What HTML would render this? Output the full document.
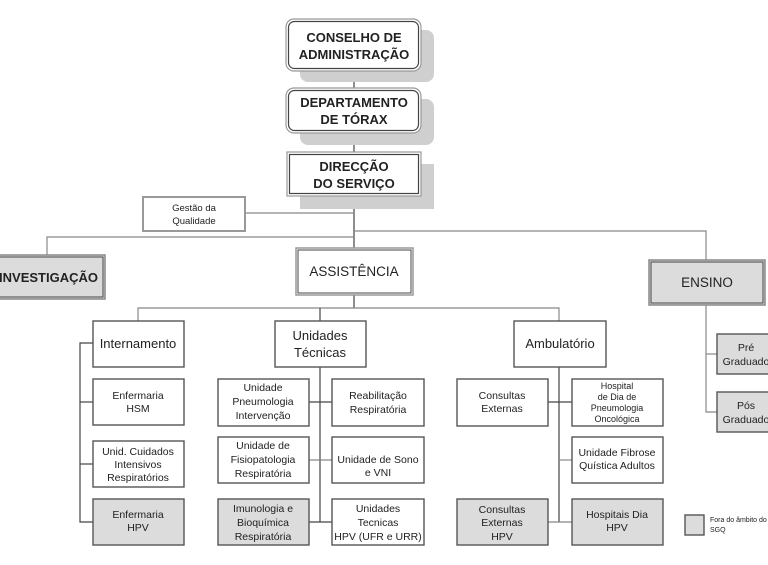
<!DOCTYPE html>
<html><head><meta charset="utf-8"><style>
html,body{margin:0;padding:0;background:#fff;width:768px;height:565px;overflow:hidden}
svg{display:block}
text{font-family:"Liberation Sans",Arial,sans-serif;fill:#222;text-anchor:middle}
.b{fill:#fff;stroke:#555;stroke-width:1.4}
.g{fill:#dcdcdc;stroke:#555;stroke-width:1.4}
.l{stroke:#444;stroke-width:1.2;fill:none}
.lg{stroke:#888;stroke-width:1.2;fill:none}
.s{font-size:10.5px}
.m{font-size:13px}
.t{font-size:13px;font-weight:bold;fill:#222}
</style></head><body>
<svg width="768" height="565" viewBox="0 0 768 565">
<!-- connectors -->
<line class="l" x1="354" y1="71" x2="354" y2="88"/>
<line class="l" x1="354" y1="133" x2="354" y2="152"/>
<line class="l" x1="354" y1="196" x2="354" y2="248"/>
<line class="lg" x1="245" y1="213" x2="354" y2="213"/>
<polyline class="lg" points="354,231 706,231 706,260"/>
<polyline class="lg" points="354,237 47,237 47,255"/>
<line class="l" x1="354" y1="295" x2="354" y2="308"/>
<polyline class="lg" points="138,321 138,308 559,308 559,321"/>
<line class="l" x1="320" y1="308" x2="320" y2="321"/>
<!-- internamento column -->
<polyline class="l" points="93,343 80,343 80,522 93,522"/>
<line class="l" x1="80" y1="402" x2="93" y2="402"/>
<line class="l" x1="80" y1="464" x2="93" y2="464"/>
<!-- UT column -->
<line class="l" x1="320" y1="367" x2="320" y2="522"/>
<line class="l" x1="309" y1="402" x2="332" y2="402"/>
<line class="lg" x1="309" y1="460" x2="332" y2="460"/>
<line class="l" x1="309" y1="522" x2="332" y2="522"/>
<!-- Amb column -->
<line class="l" x1="559" y1="367" x2="559" y2="522"/>
<line class="l" x1="548" y1="402" x2="572" y2="402"/>
<line class="lg" x1="559" y1="460" x2="572" y2="460"/>
<line class="lg" x1="548" y1="522" x2="572" y2="522"/>
<!-- ensino column -->
<polyline class="lg" points="706,305 706,412 717,412"/>
<line class="lg" x1="706" y1="354" x2="717" y2="354"/>

<!-- shadows -->
<rect x="300" y="30" width="134" height="52" rx="8" fill="#cfcfcf"/>
<rect x="300" y="99" width="134" height="46" rx="8" fill="#cfcfcf"/>
<rect x="300" y="164" width="134" height="45" fill="#cfcfcf"/>
<!-- top boxes -->
<rect x="286" y="19" width="135" height="52" rx="8" fill="#fff" stroke="#999" stroke-width="1.2"/>
<rect x="288.5" y="21.5" width="130" height="47" rx="6" fill="none" stroke="#444" stroke-width="1.2"/>
<text class="t" x="354" y="42">CONSELHO DE</text>
<text class="t" x="354" y="59">ADMINISTRAÇÃO</text>
<rect x="286" y="88" width="135" height="45" rx="8" fill="#fff" stroke="#999" stroke-width="1.2"/>
<rect x="288.5" y="90.5" width="130" height="40" rx="6" fill="none" stroke="#444" stroke-width="1.2"/>
<text class="t" x="354" y="107">DEPARTAMENTO</text>
<text class="t" x="354" y="124">DE TÓRAX</text>
<rect x="287" y="152" width="134" height="44" fill="#fff" stroke="#999" stroke-width="1.2"/>
<rect x="289.5" y="154.5" width="129" height="39" fill="none" stroke="#444" stroke-width="1.2"/>
<text class="t" x="354" y="171">DIRECÇÃO</text>
<text class="t" x="354" y="188">DO SERVIÇO</text>

<rect x="143" y="197" width="102" height="34" fill="#fff" stroke="#999" stroke-width="2"/>
<text class="s" x="194" y="211" style="font-size:9.5px">Gestão da</text>
<text class="s" x="194" y="224" style="font-size:9.5px">Qualidade</text>

<rect x="-5" y="255" width="110" height="44" fill="#dcdcdc" stroke="#888" stroke-width="1.5"/>
<rect x="-3" y="257" width="106" height="40" fill="none" stroke="#444" stroke-width="1"/>
<text class="t" x="98" y="282" style="text-anchor:end">INVESTIGAÇÃO</text>

<rect x="296" y="248" width="117" height="47" fill="#fff" stroke="#999" stroke-width="1.5"/>
<rect x="298" y="250" width="113" height="43" fill="none" stroke="#444" stroke-width="1"/>
<text class="t" x="354" y="276" style="font-weight:normal;font-size:13.5px">ASSISTÊNCIA</text>

<rect x="649" y="260" width="116" height="45" fill="#dcdcdc" stroke="#888" stroke-width="1.5"/>
<rect x="651" y="262" width="112" height="41" fill="none" stroke="#444" stroke-width="1"/>
<text class="t" x="707" y="287" style="font-weight:normal;font-size:13.5px">ENSINO</text>

<!-- second level -->
<rect class="b" x="93" y="321" width="91" height="46" stroke="#777"/>
<text class="m" x="138" y="348">Internamento</text>
<rect class="b" x="275" y="321" width="91" height="46" stroke="#777"/>
<text class="m" x="320" y="340">Unidades</text>
<text class="m" x="320" y="357">Técnicas</text>
<rect class="b" x="514" y="321" width="92" height="46" stroke="#777"/>
<text class="m" x="560" y="348">Ambulatório</text>

<!-- internamento -->
<rect class="b" x="93" y="379" width="91" height="46"/>
<text class="s" x="138" y="399">Enfermaria</text>
<text class="s" x="138" y="412">HSM</text>
<rect class="b" x="93" y="441" width="91" height="46"/>
<text class="s" x="138" y="455">Unid. Cuidados</text>
<text class="s" x="138" y="468">Intensivos</text>
<text class="s" x="138" y="481">Respiratórios</text>
<rect class="g" x="93" y="499" width="91" height="46"/>
<text class="s" x="138" y="518">Enfermaria</text>
<text class="s" x="138" y="531">HPV</text>

<!-- UT -->
<rect class="b" x="218" y="379" width="91" height="47"/>
<text class="s" x="263" y="391">Unidade</text>
<text class="s" x="263" y="405">Pneumologia</text>
<text class="s" x="263" y="419">Intervenção</text>
<rect class="b" x="332" y="379" width="92" height="47"/>
<text class="s" x="378" y="399">Reabilitação</text>
<text class="s" x="378" y="413">Respiratória</text>
<rect class="b" x="218" y="437" width="91" height="46"/>
<text class="s" x="263" y="449">Unidade de</text>
<text class="s" x="263" y="463">Fisiopatologia</text>
<text class="s" x="263" y="477">Respiratória</text>
<rect class="b" x="332" y="437" width="92" height="46"/>
<text class="s" x="378" y="463">Unidade de Sono</text>
<text class="s" x="378" y="476">e VNI</text>
<rect class="g" x="218" y="499" width="91" height="46"/>
<text class="s" x="263" y="512">Imunologia e</text>
<text class="s" x="263" y="526">Bioquímica</text>
<text class="s" x="263" y="540">Respiratória</text>
<rect class="b" x="332" y="499" width="92" height="46"/>
<text class="s" x="378" y="512">Unidades</text>
<text class="s" x="378" y="526">Tecnicas</text>
<text class="s" x="378" y="540">HPV (UFR e URR)</text>

<!-- Ambulatorio -->
<rect class="b" x="457" y="379" width="91" height="47"/>
<text class="s" x="502" y="399">Consultas</text>
<text class="s" x="502" y="412">Externas</text>
<rect class="b" x="572" y="379" width="91" height="47"/>
<text x="617" y="389" style="font-size:9px">Hospital</text>
<text x="617" y="400" style="font-size:9px">de Dia de</text>
<text x="617" y="411" style="font-size:9px">Pneumologia</text>
<text x="617" y="422" style="font-size:9px">Oncológica</text>
<rect class="b" x="572" y="437" width="91" height="46"/>
<text class="s" x="617" y="456">Unidade Fibrose</text>
<text class="s" x="617" y="469">Quística Adultos</text>
<rect class="g" x="457" y="499" width="91" height="46"/>
<text class="s" x="502" y="513">Consultas</text>
<text class="s" x="502" y="526">Externas</text>
<text class="s" x="502" y="540">HPV</text>
<rect class="g" x="572" y="499" width="91" height="46"/>
<text class="s" x="617" y="518">Hospitais Dia</text>
<text class="s" x="617" y="531">HPV</text>

<!-- ensino -->
<rect class="g" x="717" y="334" width="60" height="40"/>
<text class="s" x="746" y="351">Pré</text>
<text class="s" x="746" y="365">Graduado</text>
<rect class="g" x="717" y="392" width="60" height="40"/>
<text class="s" x="746" y="409">Pós</text>
<text class="s" x="746" y="423">Graduado</text>

<!-- legend -->
<rect class="g" x="685" y="515" width="19" height="20"/>
<text x="710" y="522" style="font-size:7px;text-anchor:start">Fora do âmbito do</text>
<text x="710" y="532" style="font-size:7px;text-anchor:start">SGQ</text>
</svg>
</body></html>
